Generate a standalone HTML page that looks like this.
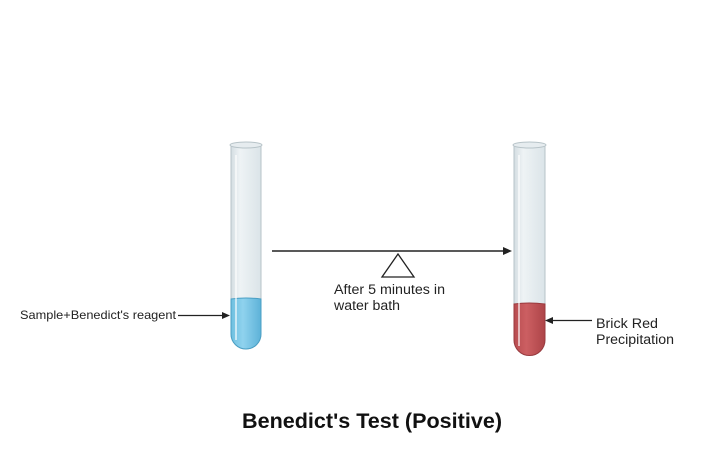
<!DOCTYPE html>
<html><head><meta charset="utf-8"><style>
html,body{margin:0;padding:0;background:#fff;}
svg{display:block;font-family:"Liberation Sans",Arial,sans-serif;}
</style></head><body>
<svg width="715" height="453" viewBox="0 0 715 453" xmlns="http://www.w3.org/2000/svg">
<defs>
<linearGradient id="glass" x1="0" x2="1">
<stop offset="0" stop-color="#d4dde2"/><stop offset="0.3" stop-color="#eef3f5"/><stop offset="1" stop-color="#dbe4e8"/>
</linearGradient>
<linearGradient id="blue" x1="0" x2="1">
<stop offset="0" stop-color="#6fc0e0"/><stop offset="0.4" stop-color="#8fd2ee"/><stop offset="1" stop-color="#5db2d8"/>
</linearGradient>
<linearGradient id="red" x1="0" x2="1">
<stop offset="0" stop-color="#b84c50"/><stop offset="0.4" stop-color="#cc5f62"/><stop offset="1" stop-color="#ad4448"/>
</linearGradient>
</defs>
<path d="M231 146 V334 a15 15 0 0 0 30 0 V146 Z" fill="url(#glass)" stroke="#b7c3c8" stroke-width="1"/>
<path d="M231 299 Q246 297 261 299 V334 a15 15 0 0 1 -30 0 Z" fill="url(#blue)" stroke="#4a9fc4" stroke-width="1"/>
<ellipse cx="246" cy="145" rx="16" ry="3" fill="#e6ecef" stroke="#b7c3c8"/>
<line x1="236" y1="155" x2="236" y2="340" stroke="#fff" stroke-width="1.5" opacity="0.8"/>
<path d="M514 146 V340 a15.5 15.5 0 0 0 31 0 V146 Z" fill="url(#glass)" stroke="#b7c3c8" stroke-width="1"/>
<path d="M514 304 Q529 302 545 304 V340 a15.5 15.5 0 0 1 -31 0 Z" fill="url(#red)" stroke="#9a3a3e" stroke-width="1"/>
<ellipse cx="529.5" cy="145" rx="16.5" ry="3" fill="#e6ecef" stroke="#b7c3c8"/>
<line x1="519" y1="155" x2="519" y2="346" stroke="#fff" stroke-width="1.5" opacity="0.8"/>
<line x1="272" y1="251" x2="506" y2="251" stroke="#222" stroke-width="1.6"/>
<path d="M512 251 L503 247 L503 255 Z" fill="#222"/>
<path d="M398 254 L382 277 L414 277 Z" fill="none" stroke="#222" stroke-width="1.3"/>
<text x="334" y="294" font-size="13.5" fill="#222" textLength="111" lengthAdjust="spacingAndGlyphs">After 5 minutes in</text>
<text x="334" y="310" font-size="13.5" fill="#222" textLength="66" lengthAdjust="spacingAndGlyphs">water bath</text>
<text x="20" y="319" font-size="12" fill="#222" textLength="156" lengthAdjust="spacingAndGlyphs">Sample+Benedict's reagent</text>
<line x1="178" y1="315.5" x2="223" y2="315.5" stroke="#222" stroke-width="1.3"/>
<path d="M230 315.5 L222 312 L222 319 Z" fill="#222"/>
<line x1="552" y1="320.5" x2="592" y2="320.5" stroke="#222" stroke-width="1.3"/>
<path d="M545 320.5 L553 317 L553 324 Z" fill="#222"/>
<text x="596" y="328" font-size="13.5" fill="#222" textLength="62" lengthAdjust="spacingAndGlyphs">Brick Red</text>
<text x="596" y="344" font-size="13.5" fill="#222" textLength="78" lengthAdjust="spacingAndGlyphs">Precipitation</text>
<text x="242" y="428" font-size="21" font-weight="bold" fill="#111" textLength="260" lengthAdjust="spacingAndGlyphs">Benedict's Test (Positive)</text>
</svg>
</body></html>
